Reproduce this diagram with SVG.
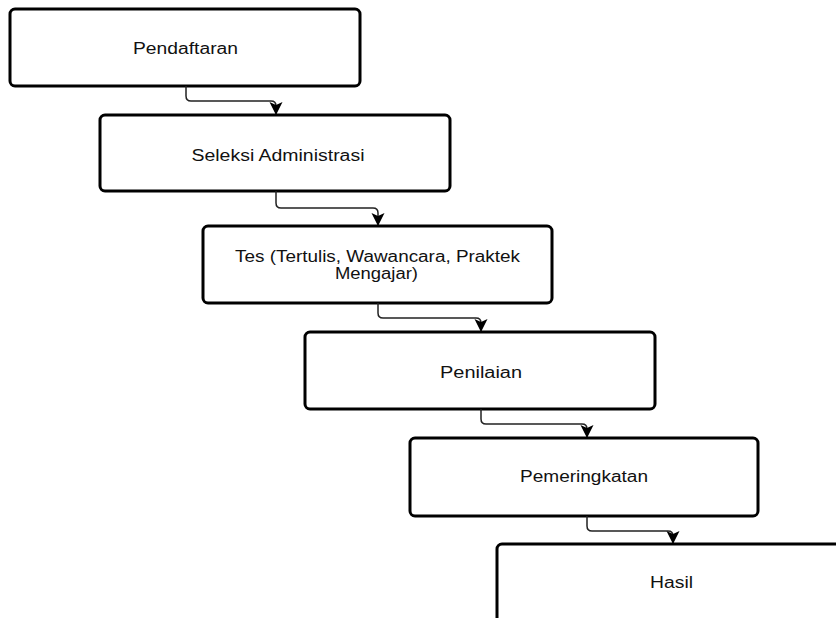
<svg xmlns="http://www.w3.org/2000/svg" width="836" height="618" viewBox="0 0 836 618">
<defs>
<style>
.box{fill:#fff;stroke:#000;stroke-width:3}
.lbl{font-family:"Liberation Sans",Arial,sans-serif;font-size:16px;fill:#111;text-anchor:middle}
.con{fill:none;stroke:#222;stroke-width:1.5}
</style>
<marker id="ah" markerWidth="14" markerHeight="14" refX="12" refY="7" orient="auto" markerUnits="userSpaceOnUse">
<path d="M0,0.5 L13,7 L0,13.5 L3,7 Z" fill="#000"/>
</marker>
</defs>
<rect width="836" height="618" fill="#fff"/>
<g id="n1"><rect class="box" x="10" y="9" width="350" height="77" rx="5"/><text class="lbl" x="185.5" y="54" textLength="105" lengthAdjust="spacingAndGlyphs">Pendaftaran</text></g>
<g id="n2"><rect class="box" x="100" y="115" width="350" height="76" rx="5"/><text class="lbl" x="278" y="160.5" textLength="173" lengthAdjust="spacingAndGlyphs">Seleksi Administrasi</text></g>
<g id="n3"><rect class="box" x="203" y="226" width="349" height="77" rx="5"/><text class="lbl" x="377.5" y="262" textLength="285" lengthAdjust="spacingAndGlyphs">Tes (Tertulis, Wawancara, Praktek</text><text class="lbl" x="376.5" y="279" textLength="83" lengthAdjust="spacingAndGlyphs">Mengajar)</text></g>
<g id="n4"><rect class="box" x="305" y="332" width="350" height="77" rx="5"/><text class="lbl" x="481" y="377.5" textLength="82" lengthAdjust="spacingAndGlyphs">Penilaian</text></g>
<g id="n5"><rect class="box" x="410" y="438" width="348" height="78" rx="5"/><text class="lbl" x="584" y="481.5" textLength="128" lengthAdjust="spacingAndGlyphs">Pemeringkatan</text></g>
<g id="n6"><rect class="box" x="497" y="544" width="350" height="90" rx="5"/><text class="lbl" x="671.5" y="588" textLength="43" lengthAdjust="spacingAndGlyphs">Hasil</text></g>
<g id="connectors">
<path class="con" marker-end="url(#ah)" d="M186,86 V96 Q186,101 191,101 H271 Q276,101 276,106 V114"/>
<path class="con" marker-end="url(#ah)" d="M276,191 V203 Q276,208 281,208 H373 Q378,208 378,213 V225"/>
<path class="con" marker-end="url(#ah)" d="M378,303 V313 Q378,318 383,318 H476 Q481,318 481,323 V331"/>
<path class="con" marker-end="url(#ah)" d="M481,409 V419 Q481,424 486,424 H582 Q587,424 587,429 V437"/>
<path class="con" marker-end="url(#ah)" d="M587,516 V526 Q587,531 592,531 H668 Q673,531 673,536 V543"/>
</g>
</svg>
